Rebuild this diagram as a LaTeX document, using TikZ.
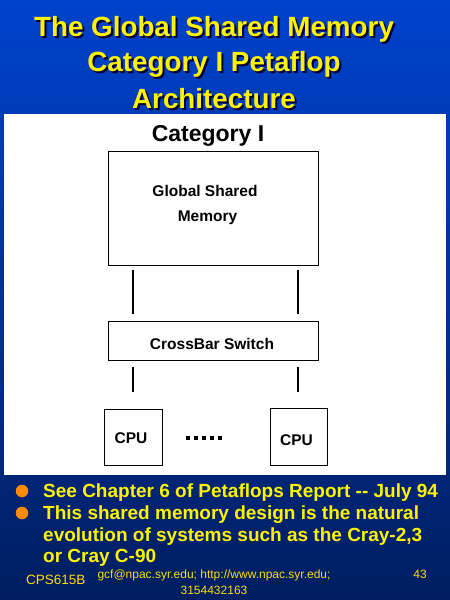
\documentclass[tikz,border=0pt]{standalone}
\usepackage{fontspec}
\setmainfont{Liberation Sans}
\begin{document}
\begin{tikzpicture}[x=1pt,y=-1pt,
  ttl/.style={font=\bfseries\fontsize{27.8}{30}\selectfont,text=yellow,inner sep=0pt,anchor=center},
  shd/.style={font=\bfseries\fontsize{27.8}{30}\selectfont,text=black!80!blue,inner sep=0pt,anchor=center},
  box/.style={draw=black,line width=0.8pt,fill=white},
  lbl/.style={font=\bfseries\fontsize{15.5}{18}\selectfont,inner sep=0pt},
  conn/.style={line width=1.2pt,black},
  btxt/.style={font=\bfseries\fontsize{19}{21.7}\selectfont,text=yellow,inner sep=0pt,anchor=north west,align=left},
  bul/.style={circle,fill=orange!90!yellow,inner sep=0pt,minimum size=12.5pt},
  foot/.style={font=\fontsize{12}{16}\selectfont,text=yellow!80!orange,inner sep=0pt}]
\definecolor{bgtop}{RGB}{0,66,205}
\definecolor{bgbot}{RGB}{0,30,96}
\useasboundingbox (0,0) rectangle (450,600);
\shade[top color=bgtop,bottom color=bgbot] (0,0) rectangle (450,600);
% title
\foreach \t/\yy in {The Global Shared Memory/29.5,Category I Petaflop/64.5,Architecture/98.5}{
  \node[shd] at (216,\yy+2) {\t};
  \node[ttl] at (214,\yy) {\t};
}
% white panel
\fill[white] (4,114) rectangle (446,475);
\node[font=\bfseries\fontsize{23}{25}\selectfont,inner sep=0pt] (cat) at (208,135.5) {Category I};
\node[box,minimum width=210pt,minimum height=114pt,anchor=north west] (gsm) at (108,151) {};
\node[lbl] (gsmt1) at (205,191) {Global Shared};
\node[lbl] (gsmt2) at (207.5,218) {Memory};
\node[box,minimum width=210pt,minimum height=39pt,anchor=north west] (xb) at (108,321) {};
\node[lbl] (xbt) at (212,344) {CrossBar Switch};
\node[box,minimum width=58pt,minimum height=56pt,anchor=north west] (cpu1) at (104,409) {};
\node[lbl] (cpu1t) at (131,438) {CPU};
\node[box,minimum width=57pt,minimum height=57pt,anchor=north west] (cpu2) at (270,408) {};
\node[lbl] (cpu2t) at (296.5,440) {CPU};
\foreach \i in {0,...,4}{
  \fill ({186+8*\i},436) rectangle ++(4,4);
}
\coordinate (a1) at (133,270); \coordinate (a2) at (133,314);
\coordinate (b1) at (298,270); \coordinate (b2) at (298,314);
\coordinate (c1) at (133,367); \coordinate (c2) at (133,392);
\coordinate (d1) at (298,367); \coordinate (d2) at (298,392);
\draw[conn] (a1) -- (a2);
\draw[conn] (b1) -- (b2);
\draw[conn] (c1) -- (c2);
\draw[conn] (d1) -- (d2);
% bullets
\node[bul] (b1n) at (22,491) {};
\node[bul] (b2n) at (22,513) {};
\node[btxt] (t1) at (43,483.5) {See Chapter 6 of Petaflops Report -{}- July 94};
\node[btxt] (t2) at (43,505.5) {This shared memory design is the natural\\evolution of systems such as the Cray-2,3\\or Cray C-90};
% footer
\node[foot,anchor=west,font=\fontsize{13.5}{16}\selectfont] (f1) at (26,580) {CPS615B};
\node[foot,align=center] (f2) at (214,582) {gcf@npac.syr.edu; http://www.npac.syr.edu;\\3154432163};
\node[foot] (f3) at (420,574) {43};
\end{tikzpicture}
\end{document}
